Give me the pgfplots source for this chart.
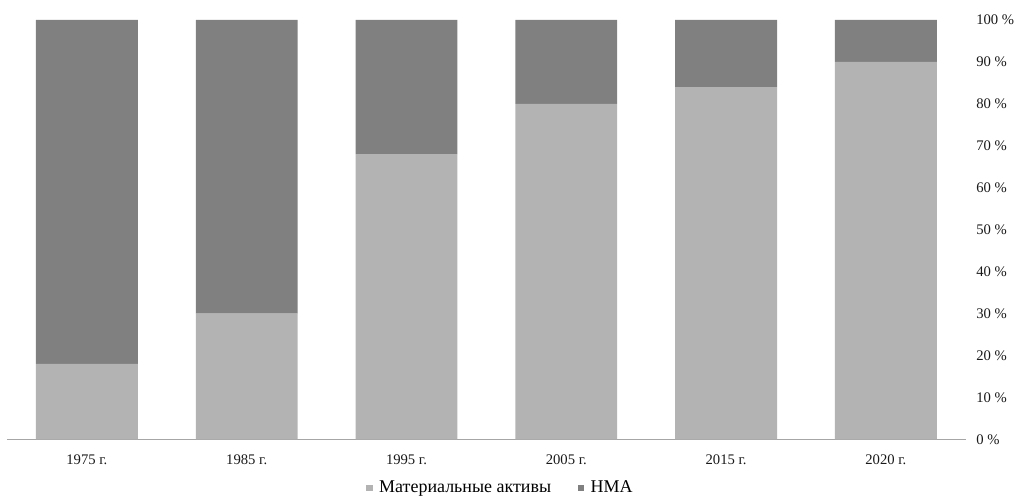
\documentclass[border=0pt]{standalone}
\usepackage{pgfplots}
\pgfplotsset{compat=1.18}
\usepackage{fontspec}
\setmainfont{Liberation Serif}
\definecolor{lightg}{RGB}{179,179,179}
\definecolor{darkg}{RGB}{128,128,128}
\begin{document}
\fontsize{11}{13}\selectfont
\begin{tikzpicture}
\begin{axis}[
  name=ax,
  scale only axis,
  width=720pt, height=315pt,
  ybar stacked,
  bar width=76.5pt,
  xmin=-0.5, xmax=5.5,
  ymin=0, ymax=100,
  xtick={0,1,2,3,4,5},
  xticklabels={1975 г.,1985 г.,1995 г.,2005 г.,2015 г.,2020 г.},
  ytick={0,10,...,100},
  yticklabel={\pgfmathprintnumber{\tick}~\%},
  /pgf/number format/assume math mode=true,
  axis x line*=bottom,
  axis y line*=right,
  y axis line style={draw=none},
  x axis line style={draw=gray!70, line width=0.8pt, -},
  major tick length=0pt,
  tick label style={font=\fontsize{11}{13}\selectfont, text=black!90},
  xticklabel style={yshift=-8pt},
  yticklabel style={anchor=west, xshift=4pt},
  legend style={at={(0.515,-0.115)}, anchor=center, draw=none, legend columns=2,
    font=\fontsize{13.5}{15}\selectfont,
    /tikz/every even column/.append style={column sep=18pt},
    /tikz/every odd column/.append style={column sep=3pt}},
  legend image code/.code={\fill[#1] (0pt,-2.3pt) rectangle (4.6pt,2.3pt);},
  clip=false,
]
\addplot[fill=lightg, draw=none] coordinates {(0,18) (1,30) (2,68) (3,80) (4,84) (5,90)};
\addplot[fill=darkg, draw=none] coordinates {(0,82) (1,70) (2,32) (3,20) (4,16) (5,10)};
\legend{Материальные активы, НМА}
\end{axis}
\path ([xshift=-5.25pt,yshift=-42pt]ax.south west) rectangle ([xshift=39pt,yshift=15pt]ax.north east);
\end{tikzpicture}
\end{document}
